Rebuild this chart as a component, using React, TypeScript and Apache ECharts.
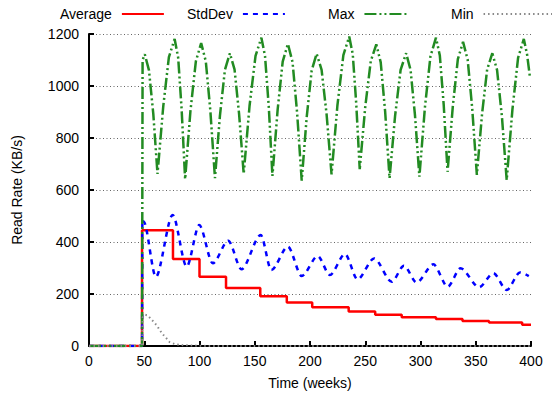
import React, { useEffect, useRef } from "react";
import * as echarts from "echarts";

// ---- data (week, KB/s) ----
const seriesNames = ["Average", "StdDev", "Max", "Min"];

const averageData: [number, number][] = [
  [0, 0], [48, 445], [76, 335], [100, 266], [124, 223], [155, 191],
  [179, 167], [202, 149], [235, 133], [259, 120], [283, 111], [314, 104],
  [338, 96], [362, 90], [392, 82], [400, 82],
];

const stdDevData: [number, number][] = [
  [0, 0], [48, 0], [48.3, 485], [49.5, 478], [60.5, 266], [75.7, 504],
  [88.4, 305], [99.8, 465], [112, 318], [126, 405], [138, 295], [155.4, 427],
  [165, 292], [180, 382], [192.5, 269], [207, 346], [218, 273], [231.7, 354],
  [243, 256], [258, 337], [274, 247], [285, 309], [296.5, 244], [311.6, 314],
  [324.6, 228], [336.3, 299], [353, 226], [366, 280], [378, 215], [390, 283],
  [398, 269],
];

const maxData: [number, number][] = [
  [0, 0], [48, 0], [48.5, 1100], [50.5, 1122], [54.3, 1060], [58.2, 892],
  [62, 662], [67.2, 922], [72.3, 1111], [77.5, 1181], [80.7, 1109], [83.8, 912],
  [87, 642], [91.8, 904], [96.7, 1095], [101.5, 1165], [105.7, 1095], [109.8, 906],
  [114, 646], [118.5, 886], [123, 1062], [127.5, 1126], [131.7, 1064], [135.8, 894],
  [140, 662], [145.3, 924], [150.7, 1116], [156, 1186], [159.3, 1115], [162.7, 920],
  [166, 654], [170.7, 908], [175.3, 1094], [180, 1162], [184.2, 1092], [188.3, 899],
  [192.5, 636], [197, 880], [201.5, 1059], [206, 1124], [210.5, 1062], [215, 892],
  [219.5, 660], [224.8, 925], [230.2, 1119], [235.5, 1190], [238.7, 1122], [241.8, 935],
  [245, 680], [250, 920], [255, 1096], [260, 1160], [264, 1091], [268, 902],
  [272, 645], [277, 885], [282, 1062], [287, 1126], [291, 1062], [295, 888],
  [299, 651], [304, 918], [309, 1114], [314, 1186], [317.5, 1117], [321, 928],
  [324.5, 670], [329.2, 920], [333.8, 1103], [338.5, 1170], [342.7, 1101], [346.8, 914],
  [351, 658], [355.7, 892], [360.3, 1063], [365, 1126], [369.3, 1061], [373.7, 882],
  [378, 638], [383.2, 910], [388.3, 1108], [393.5, 1181], [396.5, 1120], [399, 1035],
];

const minData: [number, number][] = [
  [0, 0], [48, 0], [48.5, 110], [51, 120], [53, 118], [57, 100], [61, 81],
  [66, 49], [70, 30], [73, 15], [78, 7], [85, 3], [100, 1], [110, 0], [400, 0],
];

const xTicks = { min: 0, max: 400, interval: 50 };
const yTicks = { min: 0, max: 1200, interval: 200 };

const FONT = "'Liberation Sans', Arial, Helvetica, sans-serif";

export default function App() {
  const ref = useRef<HTMLDivElement>(null);

  useEffect(() => {
    if (!ref.current) return;
    const chart = echarts.init(ref.current, undefined, { renderer: "svg" });

    const colors = ["#ff0000", "#0000ff", "#228b22", "#888888"];
    const lineStyles: any[] = [
      { width: 2.5, type: "solid" },
      { width: 2.5, type: [5, 5] },
      { width: 2.5, type: [12, 3, 2, 3, 2, 3] },
      { width: 2, type: [1.5, 3] },
    ];
    const legendLefts = [60, 187, 328, 451];
    const legendWidths = [42, 42, 42, 72];

    const legendBase = {
      top: 7,
      padding: 0,
      align: "right" as const,
      itemHeight: 14,
      itemStyle: { opacity: 0 },
      textStyle: { fontFamily: FONT, fontSize: 14, color: "#000", padding: [0, 5, 0, 0] },
    };

    chart.setOption({
      animation: false,
      color: colors,
      textStyle: { fontFamily: FONT },
      grid: { left: 89, right: 21, top: 34, bottom: 53 },
      legend: seriesNames.map((n, i) => ({
        ...legendBase,
        left: legendLefts[i],
        itemWidth: legendWidths[i],
        data: [n],
      })),
      xAxis: {
        type: "value",
        ...xTicks,
        name: "Time (weeks)",
        nameLocation: "middle",
        nameGap: 30,
        nameTextStyle: { fontFamily: FONT, fontSize: 14, color: "#000" },
        axisLine: { show: true, lineStyle: { color: "#000", width: 2 } },
        axisTick: { show: true, inside: true, length: 5, lineStyle: { color: "#000", width: 2 } },
        axisLabel: { fontFamily: FONT, fontSize: 14, color: "#000", margin: 8, formatter: (v: number) => String(v) },
        splitLine: { show: false },
      },
      yAxis: {
        type: "value",
        ...yTicks,
        name: "Read Rate (KB/s)",
        nameLocation: "middle",
        nameRotate: 90,
        nameGap: 65,
        nameTextStyle: { fontFamily: FONT, fontSize: 14, color: "#000" },
        axisLine: { show: true, lineStyle: { color: "#000", width: 2 } },
        axisTick: { show: true, inside: true, length: 5, lineStyle: { color: "#000", width: 2 } },
        axisLabel: { fontFamily: FONT, fontSize: 14, color: "#000", margin: 10, formatter: (v: number) => String(v) },
        splitLine: { show: true, lineStyle: { color: "#666", width: 1, type: [1, 2.5] } },
      },
      series: [
        {
          name: "Average", type: "line", data: averageData, step: "end",
          symbol: "none", lineStyle: { color: colors[0], ...lineStyles[0] },
        },
        {
          name: "StdDev", type: "line", data: stdDevData, smooth: 0.3, smoothMonotone: "x",
          symbol: "none", lineStyle: { color: colors[1], ...lineStyles[1] },
        },
        {
          name: "Max", type: "line", data: maxData,
          symbol: "none", lineStyle: { color: colors[2], ...lineStyles[2] },
        },
        {
          name: "Min", type: "line", data: minData,
          symbol: "none", lineStyle: { color: colors[3], ...lineStyles[3] },
        },
      ],
    });

    return () => chart.dispose();
  }, []);

  return (
    <div
      ref={ref}
      style={{ position: "fixed", left: 0, top: 0, width: 552, height: 399, background: "#fff" }}
    />
  );
}
